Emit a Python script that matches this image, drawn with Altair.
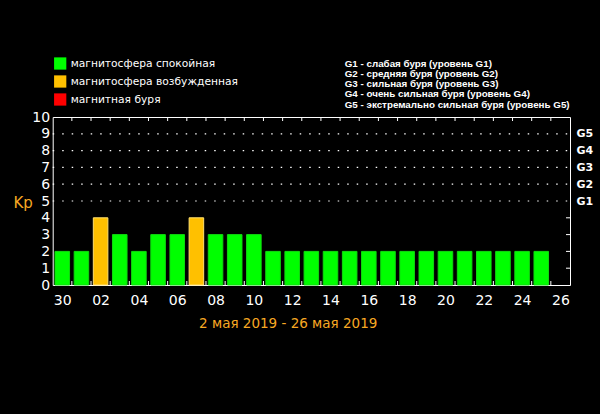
import altair as alt
import pandas as pd

# ---- data ----
days = ["30", "01", "02", "03", "04", "05", "06", "07", "08", "09", "10", "11", "12", "13",
        "14", "15", "16", "17", "18", "19", "20", "21", "22", "23", "24", "25", "26"]
kp = [2, 2, 4, 3, 2, 3, 3, 4, 3, 3, 3, 2, 2, 2, 2, 2, 2, 2, 2, 2, 2, 2, 2, 2, 2, 2]
status_names = ["магнитосфера спокойная", "магнитосфера возбужденная", "магнитная буря"]
status_colors = ["#00ff00", "#ffc000", "#ff0000"]
status_strokes = ["#10d810", "#ffe070", "#ff5050"]
kp_levels = [0, 1, 2, 3, 4, 5, 6, 7, 8, 9, 10]
g_levels = [5, 6, 7, 8, 9]
inner_tick_levels = [1, 2, 3, 4]
g_legend_lines = [
    "G1 - слабая буря (уровень G1)",
    "G2 - средняя буря (уровень G2)",
    "G3 - сильная буря (уровень G3)",
    "G4 - очень сильная буря (уровень G4)",
    "G5 - экстремально сильная буря (уровень G5)",
]
period_title = "2 мая 2019 - 26 мая 2019"
kp_title = "Kp"

ORANGE = "#f7a823"
FONT = "DejaVu Sans"

bars_df = pd.DataFrame({"i": list(range(len(kp))), "kp": kp})
bounds_df = pd.DataFrame({"b": list(range(1, len(days)))})
grid_df = pd.DataFrame({"level": g_levels})
inner_df = pd.DataFrame({"level": inner_tick_levels})

xs = alt.Scale(domain=[0, len(days)], nice=False, zero=False)
ys = alt.Scale(domain=[0, 10], nice=False, zero=True)

days_js = "[" + ",".join("'%s'" % d for d in days) + "]"

bars = alt.Chart(bars_df).transform_calculate(
    x0="datum.i + 0.12",
    x1="datum.i + 0.88",
    status="datum.kp >= 5 ? '%s' : (datum.kp >= 4 ? '%s' : '%s')"
    % (status_names[2], status_names[1], status_names[0]),
).mark_bar(strokeWidth=1).encode(
    x=alt.X("x0:Q", scale=xs, axis=alt.Axis(
        values=[i + 0.5 for i in range(0, len(days), 2)],
        labelExpr=days_js + "[floor(datum.value)]",
        domain=False, ticks=False, grid=False,
        labelColor="white", labelFontSize=14, labelPadding=8, labelFlush=False,
        title=period_title, titleColor=ORANGE, titleFontSize=13.5, titleFontWeight="normal",
        titleX=235, titleY=38, titleAlign="center", titleBaseline="middle",
    )),
    x2="x1:Q",
    y=alt.Y("kp:Q", scale=ys, axis=alt.Axis(
        values=kp_levels, domain=False, ticks=False, grid=False,
        labelColor="white", labelFontSize=14, labelPadding=3,
        title=kp_title, titleColor=ORANGE, titleFontSize=15, titleFontWeight="normal",
        titleAngle=0, titleX=-30, titleY=85, titleAlign="center", titleBaseline="middle",
    )),
    y2=alt.Y2(datum=0),
    fill=alt.Fill("status:N", scale=alt.Scale(domain=status_names, range=status_colors),
                  legend=alt.Legend(orient="none", legendX=1, legendY=-60, title=None,
                                    symbolType="square", symbolSize=150, symbolStrokeWidth=0,
                                    symbolOpacity=1, labelColor="white", labelFontSize=10.7,
                                    labelFont=FONT, labelLimit=400, rowPadding=5,
                                    labelOffset=4, padding=0)),
    stroke=alt.Stroke("status:N", scale=alt.Scale(domain=status_names, range=status_strokes),
                      legend=None),
)

grid = alt.Chart(grid_df).mark_rule(color="white", strokeDash=[1.5, 8], strokeWidth=1.2).encode(
    x=alt.X(datum=0, scale=xs, axis=None),
    x2=alt.X2(datum=len(days)),
    y=alt.Y("level:Q", scale=ys, axis=alt.Axis(
        orient="right", values=g_levels, labelExpr="'G' + (datum.value - 4)",
        domain=False, ticks=False, grid=False, title=None,
        labelColor="white", labelFontSize=11, labelFontWeight="bold", labelPadding=6,
    )),
)

top_ticks = alt.Chart(bounds_df).mark_rule(color="white", y2Offset=4).encode(
    x=alt.X("b:Q", scale=xs, axis=None),
    y=alt.Y(datum=10, scale=ys, axis=None),
    y2=alt.Y2(datum=10),
)

bottom_ticks = alt.Chart(bounds_df).mark_rule(color="white", y2Offset=-4).encode(
    x=alt.X("b:Q", scale=xs, axis=None),
    y=alt.Y(datum=0, scale=ys, axis=None),
    y2=alt.Y2(datum=0),
)

right_ticks = alt.Chart(inner_df).mark_rule(color="white", x2Offset=-4).encode(
    x=alt.X(datum=len(days), scale=xs, axis=None),
    x2=alt.X2(datum=len(days)),
    y=alt.Y("level:Q", scale=ys, axis=None),
)

g_text = alt.Chart(pd.DataFrame({"k": [0]})).mark_text(
    text=g_legend_lines, align="left", baseline="top", lineHeight=10.3,
    font="Liberation Sans", fontWeight="bold", fontSize=9.8, color="white",
).encode(x=alt.value(292), y=alt.value(-58.5))

chart = alt.layer(bars, grid, top_ticks, bottom_ticks, right_ticks, g_text).resolve_axis(
    x="independent", y="independent"
).properties(
    width=517.3, height=168,
    autosize="none",
    padding={"left": 52.7, "top": 117, "right": 30, "bottom": 129},
    background="black",
).configure_view(stroke="white", strokeWidth=1, fill="black").configure_axis(
    labelFont=FONT, titleFont=FONT
)

chart.save("out.html", embed_options={"renderer": "svg", "actions": False})
